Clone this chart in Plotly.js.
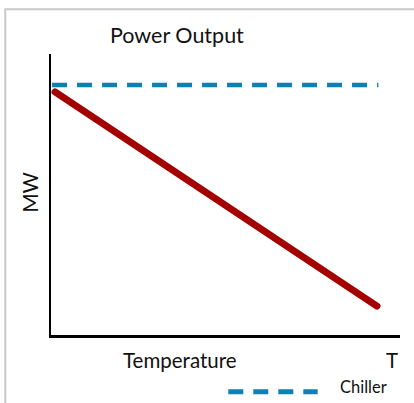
<!DOCTYPE html>
<html>
<head>
<meta charset="utf-8">
<script src="https://cdn.plot.ly/plotly-3.0.1.min.js"></script>
<style>
html,body{margin:0;padding:0;background:#fff;}
#chart{width:414px;height:403px;}
.scatterlayer .trace:first-child .js-line{stroke-linecap:round;}
</style>
</head>
<body>
<div id="chart"></div>
<script>
// Data (schematic: power output falls with temperature, chiller keeps it flat)
const tempPower = [0.115, 9.34];
const powerNoChiller = [8.65, 1.03];
const tempChiller = [0.03, 9.38];
const powerChiller = [8.9, 8.9];
const seriesNames = ['Power', 'Chiller'];
const chartTitle = 'Power Output';
const xLabel = 'Temperature';
const xEndLabel = 'T';
const yLabel = 'MW';

const FONT = 'Lato, "Open Sans", sans-serif';
const red = '#A50000';
const blue = '#0E80B3';

const traces = [
  {x: tempPower, y: powerNoChiller, name: seriesNames[0], mode: 'lines',
   line: {color: red, width: 7}, showlegend: false, hoverinfo: 'skip'},
  {x: tempChiller, y: powerChiller, name: seriesNames[1], mode: 'lines',
   line: {color: blue, width: 4.5, dash: '15px,10px'}, showlegend: false, hoverinfo: 'skip'}
];

const layout = {
  width: 414, height: 403,
  margin: {l: 51, r: 14, t: 54, b: 68, pad: 0},
  paper_bgcolor: '#fff', plot_bgcolor: '#fff',
  font: {family: FONT, color: '#000'},
  showlegend: false,
  title: {text: chartTitle, font: {family: FONT, size: 21.5, color: '#111'},
          xref: 'container', x: 110/414, xanchor: 'left',
          yref: 'container', y: 1 - 35/403, yanchor: 'middle'},
  xaxis: {range: [0, 10], showline: true, linecolor: '#000', linewidth: 2.5,
          showgrid: false, zeroline: false, showticklabels: false, ticks: '', fixedrange: true},
  yaxis: {range: [0, 10], showline: true, linecolor: '#000', linewidth: 2.5,
          showgrid: false, zeroline: false, showticklabels: false, ticks: '', fixedrange: true},
  shapes: [
    {type: 'rect', xref: 'paper', yref: 'paper',
     x0: (5.3-51)/349, x1: (430-51)/349, y0: (335-420)/281, y1: (335-9.3)/281,
     line: {color: '#c8c8c8', width: 2}, fillcolor: 'rgba(0,0,0,0)', layer: 'below'},
    {type: 'line', xref: 'paper', yref: 'paper',
     x0: (228.3-51)/349, x1: (317.7-51)/349, y0: (335-391.7)/281, y1: (335-391.7)/281,
     line: {color: blue, width: 5, dash: '15px,10px'}}
  ],
  annotations: [
    {text: xLabel, xref: 'paper', yref: 'paper', x: (180-51)/349, y: (335-360)/281,
     xanchor: 'center', yanchor: 'middle', showarrow: false, font: {family: FONT, size: 20.5, color: '#111'}},
    {text: xEndLabel, xref: 'paper', yref: 'paper', x: (392-51)/349, y: (335-360)/281,
     xanchor: 'center', yanchor: 'middle', showarrow: false, font: {family: FONT, size: 20.5, color: '#111'}},
    {text: yLabel, xref: 'paper', yref: 'paper', x: (29.5-51)/349, y: (335-193)/281,
     xanchor: 'center', yanchor: 'middle', textangle: -90, showarrow: false, font: {family: FONT, size: 20.5, color: '#111'}},
    {text: seriesNames[1], xref: 'paper', yref: 'paper', x: (363-51)/349, y: (335-387)/281,
     xanchor: 'center', yanchor: 'middle', showarrow: false, font: {family: FONT, size: 16.5, color: '#111'}}
  ]
};

Plotly.newPlot('chart', traces, layout, {staticPlot: true, displayModeBar: false});
</script>
</body>
</html>
